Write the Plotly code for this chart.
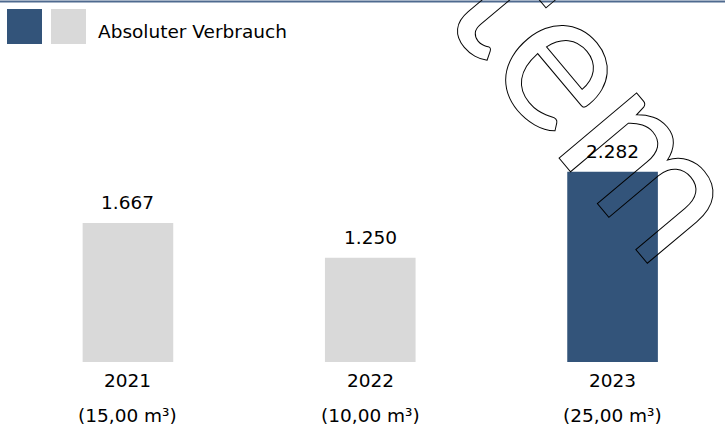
import plotly.graph_objects as go

# ---- data ----
years = ["2021", "2022", "2023"]
values = [1667, 1250, 2282]
value_labels = ["1.667", "1.250", "2.282"]
volume_labels = ["(15,00 m³)", "(10,00 m³)", "(25,00 m³)"]
legend_label = "Absoluter Verbrauch"
watermark_text = "System"

DARK = "#33547a"
LIGHT = "#d9d9d9"
FONT = "DejaVu Sans"
FS = 18.5
bar_colors = [LIGHT, LIGHT, DARK]

fig = go.Figure()
fig.add_trace(go.Bar(x=years, y=values, marker=dict(color=bar_colors, line=dict(width=0)),
                     hoverinfo="skip", showlegend=False))

annotations = []
for i, (yr, v, lab, vol) in enumerate(zip(years, values, value_labels, volume_labels)):
    annotations.append(dict(x=i, y=v, text=lab, showarrow=False, xanchor="center",
                            yanchor="middle", yshift=20, font=dict(family=FONT, size=FS, color="#000")))
    annotations.append(dict(x=i, y=0, text=yr, showarrow=False, xanchor="center",
                            yanchor="middle", yshift=-18, font=dict(family=FONT, size=FS, color="#000")))
    annotations.append(dict(x=i, y=0, text=vol, showarrow=False, xanchor="center",
                            yanchor="middle", yshift=-53, font=dict(family=FONT, size=FS, color="#000")))

W, H = 725, 426
annotations.append(dict(xref="paper", yref="paper", x=96 / W, y=1 - 32 / H, text=legend_label,
                        showarrow=False, xanchor="left", yanchor="middle",
                        font=dict(family=FONT, size=FS, color="#000")))
annotations.append(dict(xref="paper", yref="paper", x=512 / W, y=1 + 18 / H, text=watermark_text,
                        showarrow=False, xanchor="center", yanchor="middle", textangle=50,
                        font=dict(family="Lato", size=200, color="rgba(0,0,0,0)")))

shapes = [
    dict(type="line", xref="paper", yref="paper", x0=0, x1=1, y0=1 - 1.5 / H, y1=1 - 1.5 / H,
         line=dict(color="#4f6a8f", width=2)),
    dict(type="rect", xref="paper", yref="paper", x0=7 / W, x1=42 / W, y0=1 - 44 / H, y1=1 - 9 / H,
         fillcolor=DARK, line=dict(width=0)),
    dict(type="rect", xref="paper", yref="paper", x0=51 / W, x1=86 / W, y0=1 - 44 / H, y1=1 - 9 / H,
         fillcolor=LIGHT, line=dict(width=0)),
]

fig.update_layout(
    width=W, height=H, margin=dict(l=0, r=0, t=0, b=0),
    paper_bgcolor="white", plot_bgcolor="white",
    bargap=0.626,
    xaxis=dict(type="category", range=[-0.528, 2.464], showticklabels=False, showgrid=False,
               zeroline=False, showline=False, ticks=""),
    yaxis=dict(range=[-767.4, 4340.5], showticklabels=False, showgrid=False, zeroline=False,
               showline=False, ticks=""),
    annotations=annotations, shapes=shapes, showlegend=False,
)

post = """
document.body.style.margin = '0';
document.body.style.padding = '0';
var gd = document.getElementById('{plot_id}');
function outlineWm(){
  document.querySelectorAll('text.annotation-text').forEach(function(t){
    if (t.textContent === 'System') {
      t.style.setProperty('fill', 'none', 'important');
      t.style.setProperty('stroke', '#000', 'important');
      t.style.setProperty('stroke-width', '1px', 'important');
    }
  });
}
outlineWm();
if (gd && gd.on) { gd.on('plotly_afterplot', outlineWm); }
"""

fig.write_html("out.html", config={"displayModeBar": False}, post_script=post)
